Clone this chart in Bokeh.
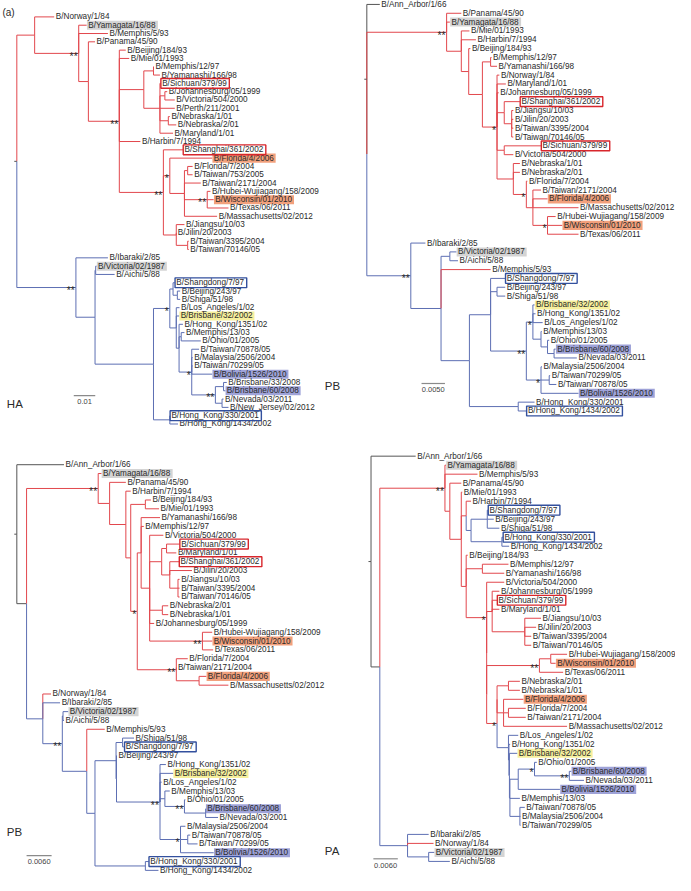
from bokeh.plotting import figure
from bokeh.models import Range1d, ColumnDataSource
from bokeh.core.properties import value
from bokeh.embed import file_html
from bokeh.resources import INLINE

# ---------------- DATA ----------------
# Trees in Newick-like notation. The number after ':' is the distance of the node
# from the root, in units of 0.001 substitutions/site. Labels after ')' are supports.
HA_NEWICK = """
((B/Norway/1/84:17.4,
  (B/Yamagata/16/88:32.5,B/Memphis/5/93:42.4,
   (B/Panama/45/90:36.4,
    (B/Beijing/184/93:50.7,B/Mie/01/1993:52.3,
     ((B/Memphis/12/97:63.8,B/Yamanashi/166/98:66.6):63.6,
      (B/Sichuan/379/99:66.9,(B/Johannesburg/05/1999:70.0,B/Victoria/504/2000:73.5):68.9,B/Perth/211/2001:73.5,
       (B/Nebraska/1/01:71.2,B/Nebraska/2/01:74.2):70.5,B/Maryland/1/01:72.7):66.6):59.1,
     B/Harbin/7/1994:57.5,
     (B/Shanghai/361/2002:77.3,
      (B/Florida/4/2006:90.9,
       ((B/Florida/7/2004:81.8,B/Taiwan/753/2005:81.8):79.5,B/Taiwan/2171/2004:85.6,
        (B/Hubei-Wujiagang/158/2009:90.1,B/Wisconsin/01/2010:91.6,B/Texas/06/2011:98.5)**:88.6,
        B/Massachusetts/02/2012:93.2):78.0)*:71.2,
      (B/Jiangsu/10/03:78.0,B/Jilin/20/2003:74.2,(B/Taiwan/3395/2004:80.0,B/Taiwan/70146/05:80.0):79.5):74.2
     )**:68.2
    )**:47.7):33.3)**:28.8):8.3,
 (B/Ibaraki/2/85:42.4,
  ((B/Victoria/02/1987:37.1,B/Aichi/5/88:45.5):36.7,
   (((B/Shangdong/7/97:73.5,(B/Beijing/243/97:76.0,B/Shiga/51/98:76.0):74.7):72.7,
     (B/Los_Angeles/1/02:75.7,B/Brisbane/32/2002:75.5,
      (B/Hong_Kong/1351/02:77.3,(B/Memphis/13/03:78.0,B/Ohio/01/2005:85.6):76.5,
       (B/Taiwan/70878/05:84.8,B/Malaysia/2506/2004:81.8,B/Taiwan/70299/05:81.8,B/Bolivia/1526/2010:90.9,
        ((B/Brisbane/33/2008:97.7,B/Brisbane/60/2008:97.0):96.2,
         (B/Nevada/03/2011:96.2,B/New_Jersey/02/2012:98.5):95.5)**:92.4)*:81.4):75.5):74.2)*:71.2,
    (B/Hong_Kong/330/2001:71.2,B/Hong_Kong/1434/2002:75.0):71.2):63.6):36.4)**:27.5):0;
"""

PB1_NEWICK = """
(B/Ann_Arbor/1/66:2.77,
 ((B/Panama/45/90:20.15,B/Yamagata/16/88:17.71,
   (B/Mie/01/1993:21.88,B/Harbin/7/1994:23.27,
    (B/Beijing/184/93:22.08,
     ((B/Memphis/12/97:26.6,B/Yamanashi/166/98:27.77):26.4,
      (B/Norway/1/84:28.27,B/Maryland/1/01:29.65,B/Johannesburg/05/1999:28.13,
       (B/Shanghai/361/2002:32.65,(B/Jiangsu/10/03:31.25,B/Jilin/20/2003:31.25,B/Taiwan/3395/2004:31.25,B/Taiwan/70146/05:31.25):30.9):29.31,
       (B/Sichuan/379/99:37.15,B/Victoria/504/2000:31.25):29.31,
       (B/Nebraska/1/01:32.65,B/Nebraska/2/01:32.65,
        (B/Florida/7/2004:34.23,
         (B/Taiwan/2171/2004:37.15,B/Florida/4/2006:38.54,B/Massachusetts/02/2012:45.15,
          (B/Hubei-Wujiagang/158/2009:40.27,B/Wisconsin/01/2010:41.67,B/Texas/06/2011:45.15)*:38.54):35.42)*:34.02):31.25
      )*:27.77):24.65):21.73):20.15)**:17.02,
  (B/Ibaraki/2/85:12.5,
   ((B/Victoria/02/1987:19.1,B/Aichi/5/88:19.44):17.71,
    B/Memphis/5/93:26.4,
    ((B/Shangdong/7/97:29.52,(B/Beijing/243/97:29.52,B/Shiga/51/98:29.52):27.77,
      ((B/Brisbane/32/2002:35.77,B/Hong_Kong/1351/02:35.98,B/Los_Angeles/1/02:37.5,
        (B/Memphis/13/03:37.29,(B/Ohio/01/2005:38.9,(B/Brisbane/60/2008:40.27,B/Nevada/03/2011:44.79):39.94):38.54):37.15)*:35.42,
       (B/Malaysia/2506/2004:37.35,(B/Taiwan/70299/05:39.1,B/Taiwan/70878/05:40.42):38.9,B/Bolivia/1526/2010:45.15)*:37.15
      )**:34.02):26.4,
     (B/Hong_Kong/330/2001:35.77,B/Hong_Kong/1434/2002:34.02):32.29):21.88):15.83)**:9.38):0):0;
"""

PB2_NEWICK = """
(B/Ann_Arbor/1/66:11.31,
 ((B/Yamagata/16/88:20.28,
   (B/Panama/45/90:26.14,
    (B/Harbin/7/1994:27.31,
     ((B/Beijing/184/93:32.15,B/Mie/01/1993:34.1):30.82,
      ((B/Yamanashi/166/98:34.33,B/Memphis/12/97:30.44,
        (B/Victoria/504/2000:35.13,
         ((B/Sichuan/379/99:39.02,B/Maryland/1/01:38.24):35.9,
          (B/Shanghai/361/2002:38.88,B/Jilin/20/2003:41.99,
           (B/Jiangsu/10/03:39.02,B/Taiwan/3395/2004:39.02,B/Taiwan/70146/05:39.02):38.64):36.67):34.73,
         (B/Nebraska/2/01:36.3,B/Nebraska/1/01:36.3):34.89,
         B/Johannesburg/05/1999:32.93,
         (B/Hubei-Wujiagang/158/2009:46.84,B/Wisconsin/01/2010:46.84,B/Texas/06/2011:47.07)**:44.5):31.85):29.81,
       (B/Florida/7/2004:40.98,B/Taiwan/2171/2004:38.24,
        (B/Florida/4/2006:45.43,B/Massachusetts/02/2012:50.73):43.7)**:38.24)*:28.88):27.31):26.14):22.25)**:19.51,
  (B/Norway/1/84:8.2,B/Ibaraki/2/85:10.37,
   ((B/Victoria/02/1987:12.32,B/Aichi/5/88:11.31):11.08,
    (B/Memphis/5/93:21.08,
     (((B/Shiga/51/98:28.1,B/Shangdong/7/97:25.76):25.36,
       (B/Beijing/243/97:24.03,
        (B/Hong_Kong/1351/02:35.74,B/Brisbane/32/2002:37.47,B/Los_Angeles/1/02:34.73,
         (B/Memphis/13/03:36.67,(B/Ohio/01/2005:40.42,(B/Brisbane/60/2008:45.27,B/Nevada/03/2001:48.24):45.27)**:40.19):35.5,
         (B/Malaysia/2506/2004:40.42,(B/Taiwan/70878/05:41.59,B/Taiwan/70299/05:43.33):40.98,B/Bolivia/1526/2010:47.21)*:39.25
        )**:34.33):23.9):23.79,
      (B/Hong_Kong/330/2001:31.62,B/Hong_Kong/1434/2002:33.96):30.82):18.74):16.77)**:10.91):6.23):2.34):0;
"""

PA_NEWICK = """
(B/Ann_Arbor/1/66:10.96,
 ((B/Yamagata/16/88:18.39,B/Memphis/5/93:26.14,
   (B/Panama/45/90:22.16,
    (B/Mie/01/1993:22.4,
     (B/Harbin/7/1994:24.56,
      ((B/Shangdong/7/97:28.71,B/Beijing/243/97:30.14,B/Shiga/51/98:31.51):28.54,
       (B/Hong_Kong/330/2001:32.37,B/Hong_Kong/1434/2002:33.91):32.13):24.56):23.36,
     (B/Beijing/184/93:23.74,
      (B/Memphis/12/97:33.74,B/Yamanashi/166/98:32.71):27.34,
      (B/Victoria/504/2000:32.71,
       ((B/Johannesburg/05/1999:31.51,B/Sichuan/379/99:30.94,B/Maryland/1/01:31.51,
         (B/Jiangsu/10/03:41.73,B/Jilin/20/2003:40.53,B/Taiwan/3395/2004:39.33,B/Taiwan/70146/05:39.33):37.75):29.74,
        (((B/Hubei-Wujiagang/158/2009:48.13,B/Wisconsin/01/2010:45.32):44.12,B/Texas/06/2011:47.17)**:41.34,
         (((B/Nebraska/2/01:36.55,B/Nebraska/1/01:36.55):33.74,
           (B/Florida/4/2006:37.41,(B/Florida/7/2004:37.99,B/Taiwan/2171/2004:37.99):33.74,B/Massachusetts/02/2012:48.13):32.54):30.94,
          (B/Los_Angeles/1/02:36.14,
           (B/Hong_Kong/1351/02:34.15,
            (B/Brisbane/32/2002:35.9,
             (((B/Ohio/01/2005:40.7,(B/Brisbane/60/2008:49.16,B/Nevada/03/2011:52.28)**:48.68)*:40.14,B/Bolivia/1526/2010:46.38):36.14,
              B/Memphis/13/03:36.55,
              (B/Taiwan/70878/05:37.75,B/Malaysia/2506/2004:36.69,B/Taiwan/70299/05:36.69):36.55):34.1):33.98):33.86):33.74
         )*:30.94):28.39):28.39
      )*:28.39):23.36):22.16):19.35)**:18.15,
  (B/Ibaraki/2/85:14.15,B/Norway/1/84:15.35,(B/Victoria/02/1987:15.52,B/Aichi/5/88:19.35):14.15):8.97):2.16):0;
"""

OUTGROUP = ["B/Ann_Arbor/1/66"]
VICTORIA_LINEAGE = [
    "B/Ibaraki/2/85", "B/Victoria/02/1987", "B/Aichi/5/88", "B/Shangdong/7/97", "B/Beijing/243/97",
    "B/Shiga/51/98", "B/Los_Angeles/1/02", "B/Brisbane/32/2002", "B/Hong_Kong/1351/02", "B/Memphis/13/03",
    "B/Ohio/01/2005", "B/Taiwan/70878/05", "B/Malaysia/2506/2004", "B/Taiwan/70299/05", "B/Bolivia/1526/2010",
    "B/Brisbane/33/2008", "B/Brisbane/60/2008", "B/Nevada/03/2011", "B/Nevada/03/2001", "B/New_Jersey/02/2012",
    "B/Hong_Kong/330/2001", "B/Hong_Kong/1434/2002",
]
GRAY_HL = ["B/Yamagata/16/88", "B/Victoria/02/1987"]
ORANGE_HL = ["B/Florida/4/2006", "B/Wisconsin/01/2010"]
YELLOW_HL = ["B/Brisbane/32/2002"]
PURPLE_HL = ["B/Brisbane/60/2008", "B/Bolivia/1526/2010"]
RED_BOX = ["B/Sichuan/379/99", "B/Shanghai/361/2002"]
BLUE_BOX_HA = ["B/Shangdong/7/97", "B/Hong_Kong/330/2001"]
BLUE_BOX_PB1 = ["B/Shangdong/7/97", "B/Hong_Kong/1434/2002"]
BLUE_BOX_PB2 = ["B/Shangdong/7/97", "B/Hong_Kong/330/2001"]
BLUE_BOX_PA = ["B/Shangdong/7/97", "B/Hong_Kong/330/2001"]

PANEL_NAMES = ["HA", "PB", "PB", "PA"]
SCALE_VALUES = [10.0, 5.0, 6.0, 6.0]          # in 0.001 subs/site
SCALE_LABELS = ["0.01", "0.0050", "0.0060", "0.0060"]

# ---------------- LAYOUT ----------------
W, H = 675, 875
XR, YR = 691.0, 891.0
SX = W / XR
FONT = "Liberation Sans"
FS = 8.2

PANELS = [
    dict(tree=HA_NEWICK, root_x=16.7, ppu=2.2, y0=16.7, dy=8.46, blue_boxes=BLUE_BOX_HA,
         name_xy=(6.5, 411), bar_xy=(75, 402.3)),
    dict(tree=PB1_NEWICK, root_x=375.0, ppu=4.8, y0=4.0, dy=9.0, blue_boxes=BLUE_BOX_PB1,
         name_xy=(332, 393), bar_xy=(431, 390)),
    dict(tree=PB2_NEWICK, root_x=16.7, ppu=4.27, y0=472.7, dy=8.98, blue_boxes=BLUE_BOX_PB2,
         name_xy=(6.5, 847), bar_xy=(26.7, 870.7)),
    dict(tree=PA_NEWICK, root_x=379.3, ppu=4.17, y0=464.0, dy=9.17, blue_boxes=BLUE_BOX_PA,
         name_xy=(332, 866), bar_xy=(381.7, 874)),
]

COL = {"red": "#e2474d", "blue": "#5d6fb3", "gray": "#555555"}
HL_COL = {}
for n in GRAY_HL: HL_COL[n] = "#d4d4d4"
for n in ORANGE_HL: HL_COL[n] = "#f2a07c"
for n in YELLOW_HL: HL_COL[n] = "#f6ef9c"
for n in PURPLE_HL: HL_COL[n] = "#9ea2d8"

AW = {'/': 278, '_': 556, '-': 333, ' ': 278, '.': 278, '*': 389}
for ch in "0123456789": AW[ch] = 556
AW.update(dict(A=667, B=667, C=722, D=722, E=667, F=611, G=778, H=722, I=278, J=500, K=667, L=556, M=833,
               N=722, O=778, P=667, Q=778, R=722, S=667, T=611, U=722, V=667, W=944, X=667, Y=667, Z=611))
AW.update(dict(a=556, b=556, c=500, d=556, e=556, f=278, g=556, h=556, i=222, j=222, k=500, l=222, m=833,
               n=556, o=556, p=556, q=556, r=333, s=500, t=278, u=556, v=500, w=722, x=500, y=500, z=500))


def text_w(s):
    return sum(AW.get(c, 556) for c in s) / 1000.0 * FS / SX


def parse_tree(s):
    s = "".join(s.split()).rstrip(";")
    pos = 0

    def node():
        nonlocal pos
        n = {"children": [], "name": None, "support": "", "d": 0.0}
        if s[pos] == "(":
            pos += 1
            while True:
                n["children"].append(node())
                ch = s[pos]
                pos += 1
                if ch == ")":
                    break
            st = pos
            while pos < len(s) and s[pos] not in ":,)":
                pos += 1
            n["support"] = s[st:pos]
        else:
            st = pos
            while pos < len(s) and s[pos] not in ":,)":
                pos += 1
            n["name"] = s[st:pos]
        if pos < len(s) and s[pos] == ":":
            pos += 1
            st = pos
            while pos < len(s) and s[pos] not in ",)":
                pos += 1
            n["d"] = float(s[st:pos])
        return n

    return node()


def leaf_col(name):
    if name in OUTGROUP:
        return "gray"
    return "blue" if name in VICTORIA_LINEAGE else "red"


def up(n):
    if not n["children"]:
        n["set"] = [leaf_col(n["name"])]
        return
    cnt = {}
    for c in n["children"]:
        up(c)
        for k in c["set"]:
            cnt[k] = cnt.get(k, 0) + 1
    m = max(cnt.values())
    n["set"] = [k for k in ("red", "blue", "gray") if cnt.get(k, 0) == m]


def down(n, pc):
    n["col"] = pc if pc in n["set"] else n["set"][0]
    for c in n["children"]:
        down(c, n["col"])


p = figure(width=W, height=H, x_range=Range1d(0, XR), y_range=Range1d(YR, 0),
           output_backend="svg", toolbar_location=None, x_axis_location=None, y_axis_location=None,
           min_border=0)
p.grid.visible = False
p.outline_line_color = None

seg = dict(x0=[], y0=[], x1=[], y1=[], c=[])
labels = dict(x=[], y=[], t=[])
hl = dict(l=[], r=[], t=[], b=[], c=[])
bx = dict(l=[], r=[], t=[], b=[], c=[])
sup = dict(x=[], y=[], t=[])
bars = dict(x0=[], y0=[], x1=[], y1=[])
bar_txt = dict(x=[], y=[], t=[])
names = dict(x=[], y=[], t=[])

for k, P in enumerate(PANELS):
    root = parse_tree(P["tree"])
    leaves = []

    def place(n):
        n["x"] = P["root_x"] + n["d"] * P["ppu"]
        if not n["children"]:
            n["y"] = P["y0"] + len(leaves) * P["dy"]
            leaves.append(n)
        else:
            for c in n["children"]:
                place(c)
            n["y"] = (n["children"][0]["y"] + n["children"][-1]["y"]) / 2.0

    place(root)
    up(root)
    down(root, None)
    has_out = any(c["name"] in OUTGROUP for c in root["children"])

    def edges(n, is_root):
        for c in n["children"]:
            col = COL["gray"] if (is_root and has_out) else COL[c["col"]]
            seg["x0"] += [n["x"], n["x"]]
            seg["y0"] += [n["y"], c["y"]]
            seg["x1"] += [n["x"], c["x"]]
            seg["y1"] += [c["y"], c["y"]]
            seg["c"] += [col, col]
        for c in n["children"]:
            edges(c, False)
            if c["support"]:
                sup["x"].append(c["x"] - 1.0)
                sup["y"].append(c["y"] + 2.6)
                sup["t"].append(c["support"])

    edges(root, True)
    # root stub
    seg["x0"].append(root["x"] - 2.6); seg["y0"].append(root["y"])
    seg["x1"].append(root["x"]); seg["y1"].append(root["y"]); seg["c"].append(COL["gray"])

    for lf in leaves:
        nm = lf["name"]
        tx = lf["x"] + 1.6
        labels["x"].append(tx); labels["y"].append(lf["y"]); labels["t"].append(nm)
        w = text_w(nm)
        if nm in HL_COL:
            hl["l"].append(lf["x"] + 0.3); hl["r"].append(tx + w + 1.8)
            hl["t"].append(lf["y"] - 4.6); hl["b"].append(lf["y"] + 4.6); hl["c"].append(HL_COL[nm])
        if nm in RED_BOX or nm in P["blue_boxes"]:
            bx["l"].append(lf["x"] + 0.3); bx["r"].append(tx + w + 2.5)
            bx["t"].append(lf["y"] - 5.0); bx["b"].append(lf["y"] + 5.0)
            bx["c"].append("#d8262c" if nm in RED_BOX else "#33509e")

    bx0, by0 = P["bar_xy"]
    blen = SCALE_VALUES[k] * P["ppu"]
    bars["x0"].append(bx0); bars["y0"].append(by0); bars["x1"].append(bx0 + blen); bars["y1"].append(by0)
    bar_txt["x"].append(bx0 + blen / 2); bar_txt["y"].append(by0 + 6.5); bar_txt["t"].append(SCALE_LABELS[k])
    names["x"].append(P["name_xy"][0]); names["y"].append(P["name_xy"][1]); names["t"].append(PANEL_NAMES[k])

p.quad(left="l", right="r", top="t", bottom="b", fill_color="c", line_color=None, source=ColumnDataSource(hl))
p.segment(x0="x0", y0="y0", x1="x1", y1="y1", line_color="c", line_width=1.0, source=ColumnDataSource(seg))
p.text(x="x", y="y", text="t", text_font=value(FONT), text_font_size=value(f"{FS}px"),
       text_baseline="middle", text_align="left", text_color="#2a2a2a", source=ColumnDataSource(labels))
p.quad(left="l", right="r", top="t", bottom="b", fill_color=None, line_color="c", line_width=1.4,
       source=ColumnDataSource(bx))
p.text(x="x", y="y", text="t", text_font=value(FONT), text_font_size=value("10.5px"),
       text_baseline="alphabetic", text_align="right", text_color="#2a2a2a", source=ColumnDataSource(sup))
p.segment(x0="x0", y0="y0", x1="x1", y1="y1", line_color="#8a8a8a", line_width=1.2, source=ColumnDataSource(bars))
p.text(x="x", y="y", text="t", text_font=value(FONT), text_font_size=value("7.5px"),
       text_baseline="middle", text_align="center", text_color="#444444", source=ColumnDataSource(bar_txt))
p.text(x="x", y="y", text="t", text_font=value(FONT), text_font_size=value("11.5px"),
       text_baseline="middle", text_align="left", text_color="#2a2a2a", source=ColumnDataSource(names))
p.text(x=[2.0], y=[12.0], text=["(a)"], text_font=value(FONT), text_font_size=value("10px"),
       text_baseline="middle", text_align="left", text_color="#2a2a2a")

open("out.html", "w").write(file_html(p, INLINE))
